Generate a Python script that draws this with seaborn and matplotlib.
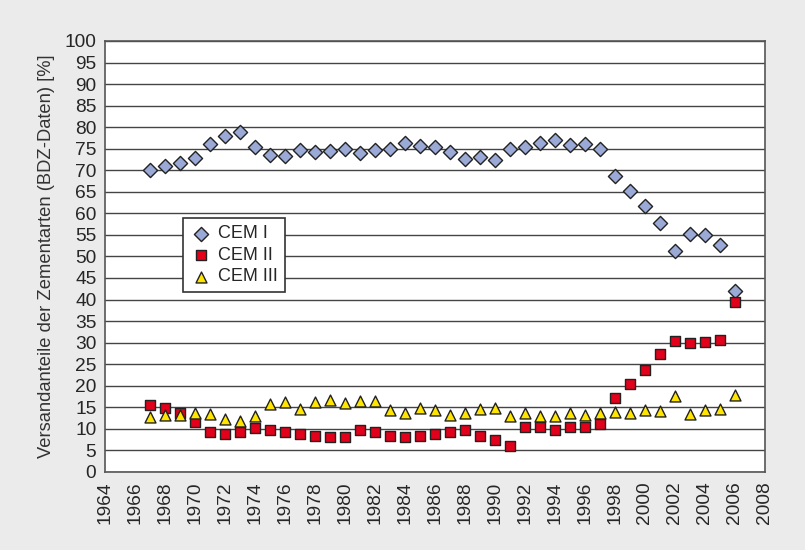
import pandas as pd
import matplotlib
matplotlib.use("Agg")
import matplotlib.pyplot as plt
import seaborn as sns

# ============================================================
# DATA (BDZ cement shipments by type, %)
# ============================================================

years = [1967, 1968, 1969, 1970, 1971, 1972, 1973, 1974, 1975, 1976,
         1977, 1978, 1979, 1980, 1981, 1982, 1983, 1984, 1985, 1986,
         1987, 1988, 1989, 1990, 1991, 1992, 1993, 1994, 1995, 1996,
         1997, 1998, 1999, 2000, 2001, 2002, 2003, 2004, 2005, 2006]

cem_1 = [70.0, 71.1, 71.6, 72.8, 76.0, 78.0, 78.8, 75.4, 73.5, 73.3,
         74.8, 74.2, 74.5, 75.0, 73.9, 74.6, 74.9, 76.4, 75.6, 75.4,
         74.3, 72.6, 73.1, 72.3, 74.9, 75.3, 76.4, 77.1, 75.8, 76.2,
         74.9, 68.6, 65.3, 61.8, 57.8, 51.3, 55.3, 54.9, 52.6, 42.0]

cem_2 = [15.6, 14.9, 13.6, 11.5, 9.2, 8.8, 9.3, 10.2, 9.7, 9.2,
         8.8, 8.3, 8.0, 8.0, 9.7, 9.2, 8.3, 8.0, 8.4, 8.8,
         9.2, 9.7, 8.4, 7.3, 6.1, 10.5, 10.5, 9.8, 10.4, 10.4,
         11.0, 17.1, 20.5, 23.7, 27.4, 30.3, 29.8, 30.2, 30.7, 39.5]

cem_3 = [12.7, 13.1, 13.3, 13.6, 13.4, 12.2, 11.9, 13.0, 15.7, 16.2,
         14.6, 16.3, 16.7, 16.0, 16.4, 16.4, 14.3, 13.6, 14.9, 14.3,
         13.3, 13.7, 14.6, 14.9, 12.9, 13.6, 12.9, 12.9, 13.7, 13.3,
         13.6, 14.0, 13.7, 14.4, 14.2, 17.7, 13.4, 14.3, 14.7, 17.8]

series_names = ["CEM I", "CEM II", "CEM III"]

df = pd.DataFrame({
    "Jahr": years * 3,
    "Anteil": cem_1 + cem_2 + cem_3,
    "Zementart": [n for n in series_names for _ in years],
})

# marker styles per cement type
styles = {
    "CEM I": dict(marker="D", color="#9aa9d6", s=52),
    "CEM II": dict(marker="s", color="#e2001a", s=44),
    "CEM III": dict(marker="^", color="#ffe500", s=62),
}

# ============================================================
# PLOT
# ============================================================

sns.set_style("white")
plt.rcParams["font.family"] = ["Liberation Sans", "DejaVu Sans"]

fig = plt.figure(figsize=(8.05, 5.5), dpi=100)
fig.patch.set_facecolor("#ebebeb")
ax = fig.add_axes([0.130, 0.142, 0.820, 0.7835])
ax.set_facecolor("white")

for name in series_names:
    st = styles[name]
    sns.scatterplot(
        data=df[df["Zementart"] == name],
        x="Jahr", y="Anteil",
        marker=st["marker"], color=st["color"], s=st["s"],
        edgecolor="#222222", linewidth=1.0,
        label=name, ax=ax, zorder=3,
    )

ax.set_xlim(1964, 2008)
ax.set_ylim(0, 100)
ax.set_xticks(range(1964, 2009, 2))
ax.set_yticks(range(0, 101, 5))
ax.tick_params(axis="x", labelrotation=90, labelsize=13.8, length=4,
               width=1, color="#555555", direction="out", pad=3)
ax.tick_params(axis="y", labelsize=13.8, length=4, width=1,
               color="#555555", direction="out", pad=2)
ax.grid(axis="y", color="#444444", linewidth=1.0)
ax.set_axisbelow(True)
for sp in ax.spines.values():
    sp.set_color("#555555")
    sp.set_linewidth(1.2)

ax.set_xlabel("")
ax.set_ylabel("Versandanteile der Zementarten (BDZ-Daten) [%]",
              fontsize=13.2, color="#333333", labelpad=7)

leg = ax.legend(loc="upper left", bbox_to_anchor=(0.2277, 0.6036),
                bbox_transform=fig.transFigure, borderaxespad=0,
                fontsize=13, frameon=True, fancybox=False, framealpha=1,
                edgecolor="#333333", labelspacing=0.25, handletextpad=0.3,
                borderpad=0.4, handlelength=1.2)
leg.get_frame().set_linewidth(1.2)

fig.savefig("out.png", dpi=100, facecolor=fig.get_facecolor())
